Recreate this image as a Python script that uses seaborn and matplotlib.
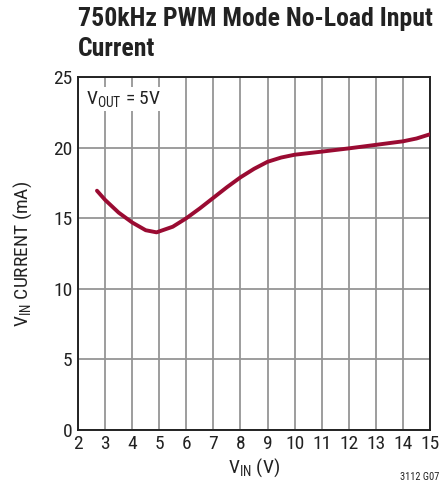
import matplotlib
matplotlib.use("Agg")
import matplotlib.pyplot as plt
import seaborn as sns
import pandas as pd

vin = [2.7, 3.0, 3.5, 4.0, 4.5, 4.9, 5.5, 6.0, 6.5, 7.0, 7.5, 8.0, 8.5, 9.0, 9.5, 10.0, 11.0, 12.0, 13.0, 14.0, 14.5, 15.0]
current = [16.95, 16.3, 15.4, 14.7, 14.15, 14.0, 14.4, 15.0, 15.7, 16.45, 17.2, 17.9, 18.5, 19.0, 19.3, 19.5, 19.72, 19.95, 20.2, 20.45, 20.65, 20.95]
xticks = list(range(2, 16))
yticks = [0, 5, 10, 15, 20, 25]

sns.set_theme(style="white")
fam = "Roboto Condensed"
plt.rcParams['font.family'] = [fam, 'DejaVu Sans']
plt.rcParams['mathtext.fontset'] = 'custom'
plt.rcParams['mathtext.rm'] = fam
plt.rcParams['mathtext.default'] = 'regular'

df = pd.DataFrame({"vin": vin, "current": current})
fig = plt.figure(figsize=(4.42, 4.88), dpi=100)
ax = fig.add_axes([0.1765, 0.119, 0.7965, 0.723])
sns.lineplot(data=df, x="vin", y="current", ax=ax, color="#9a0b32", linewidth=2.8, zorder=3)
ax.set_xlim(2, 15)
ax.set_ylim(0, 25)
ax.set_xticks(xticks)
ax.set_yticks(yticks)
ax.grid(True, color="#959595", linewidth=1.3)
ax.tick_params(length=0, labelsize=14, pad=4, colors="#222222")
for s in ax.spines.values():
    s.set_color("#222222")
    s.set_linewidth(1.4)
ax.set_xlabel(r"V$_{IN}$ (V)", fontsize=14, color="#222222", labelpad=2)
ax.set_ylabel(r"V$_{IN}$ CURRENT (mA)", fontsize=14, color="#222222", labelpad=14)
ax.text(2.3, 23.1, r"V$_{OUT}$ = 5V", fontsize=14, color="#222222", zorder=4,
        bbox=dict(facecolor="white", edgecolor="none", pad=1.5))
fig.text(0.1765, 0.986, "750kHz PWM Mode No-Load Input\nCurrent", fontsize=18.5, fontweight="bold",
         va="top", ha="left", color="#222222", linespacing=1.3)
fig.text(0.995, 0.012, "3112 G07", fontsize=7.5, ha="right", va="bottom", color="#222222")
fig.savefig("out.png", dpi=100)
